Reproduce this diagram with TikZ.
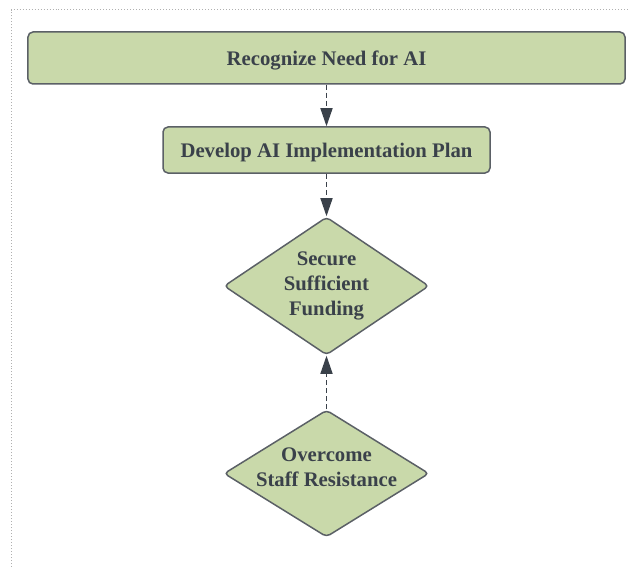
\documentclass[tikz,border=0pt]{standalone}
\usepackage{fontspec}
\setmainfont{Liberation Serif}
\usetikzlibrary{%
  arrows.meta,%
  shapes.geometric,% wg. diamond
  positioning%
}
\definecolor{boxfill}{HTML}{C9D9AA}
\definecolor{boxline}{HTML}{5B6066}
\definecolor{txtcol}{HTML}{3A414A}
\definecolor{framecol}{HTML}{B0B0B0}

\begin{document}
\begin{tikzpicture}
  [
  x=1bp, y=-1bp,
  font=\bfseries\fontsize{20.8}{25}\selectfont, line width=1.5bp,
  >={Triangle[length=18bp,width=12bp]},
  stepbox/.style={rectangle, rounded corners=5bp, draw=boxline, fill=boxfill, text=txtcol, inner sep=0pt, text depth=0pt},
  choicenode/.style={diamond, aspect=1.5, rounded corners=4bp, draw=boxline, fill=boxfill, text=txtcol, inner sep=0pt, align=center},
  flowarrow/.style={->, draw=txtcol, dash pattern=on 5bp off 3bp},
  ]

  \useasboundingbox (0,0) rectangle (628,567);
  \draw[framecol, line width=1bp, dotted] (11,567) -- (11,10) -- (628,10);

  \node[stepbox, minimum width=597bp, minimum height=52bp] (need) at (326.5,58) {Recognize Need for AI};
  \node[stepbox, minimum width=327bp, minimum height=46bp] (plan) at (326.5,150) {Develop AI Implementation Plan};

  \node[choicenode, minimum width=205bp, minimum height=138bp] (funding) at (326.5,286) {Secure\\Sufficient\\Funding};
  \node[choicenode, minimum width=205bp, minimum height=127bp,
    label={[text=txtcol, align=center, yshift=6bp]center:Overcome\\Staff Resistance}] (staff) at (326.5,473.5) {};

  \draw[flowarrow] (need) -- (plan);
  \draw[flowarrow] (plan) -- (funding);
  \draw[flowarrow] (staff) -- (funding);

\end{tikzpicture}
\end{document}
